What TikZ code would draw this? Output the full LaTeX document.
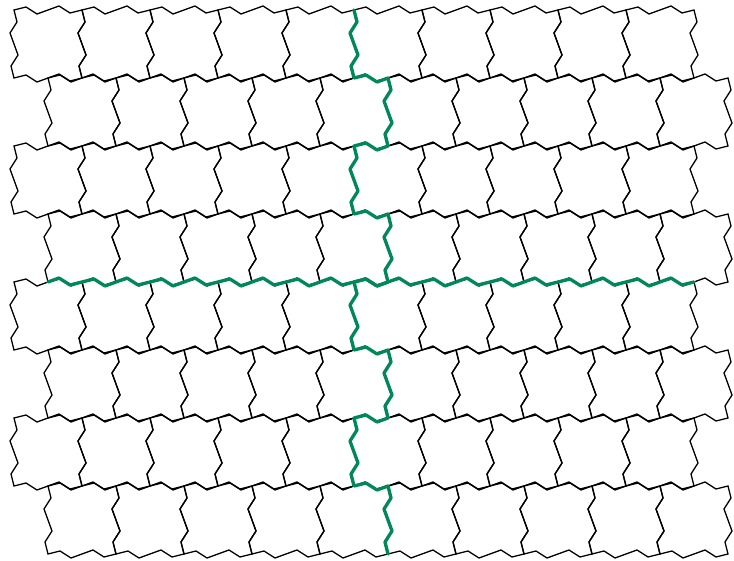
\documentclass[tikz,border=0pt]{standalone}
\usepackage{tikz}
\usetikzlibrary{calc}
\usepackage{xcolor}
\definecolor{seam}{HTML}{00875A}

% one paver edge, as relative steps (picture units are pixels, y down)
\newcommand{\hedge}{-- ++(12,-3) -- ++(11,7) -- ++(22,-8) -- ++(11,7) -- ++(12,-3)}
\newcommand{\vedge}{-- ++(3,12) -- ++(-7,11) -- ++(8,22) -- ++(-7,11) -- ++(3,12)}
\newcommand{\hedgeback}{-- ++(-12,3) -- ++(-11,-7) -- ++(-22,8) -- ++(-11,-7) -- ++(-12,3)}
\newcommand{\vedgeback}{-- ++(-3,-12) -- ++(7,-11) -- ++(-8,-22) -- ++(7,-11) -- ++(-3,-12)}
% half edges between the two joint columns
\newcommand{\halfright}{-- ++(12,-3) -- ++(11,7) -- ++(11,-4)}
\newcommand{\halfleft}{-- ++(-11,4) -- ++(-11,-7) -- ++(-12,3)}

\tikzset{
  paver/.style={line width=1.3pt, black, line join=miter},
  seamline/.style={line width=3.3pt, seam, line join=round, line cap=round}
}

\begin{document}
\begin{tikzpicture}[x=1pt, y=-1pt]
  \useasboundingbox (0,0) rectangle (734,561);
  % Pavers
  \foreach \r in {0,...,7}{
    \foreach \k in {0,...,9}{
      \pgfmathsetmacro\xo{14+68*\k+34*mod(\r,2)}
      \pgfmathsetmacro\yo{10+68*\r}
      \draw[paver] (\xo,\yo) \hedge \vedge \hedgeback \vedgeback -- cycle;
    }
  }
  % Vertical joint
  \draw[seamline] (354,10) \vedge \halfright \vedge \halfleft \vedge \halfright \vedge
    \halfleft \vedge \halfright \vedge \halfleft \vedge \halfright \vedge;
  % Horizontal joint
  \draw[seamline] (48,282) -- ++(11,-4) -- ++(11,7) -- ++(12,-3)
    \hedge \hedge \hedge \hedge \hedge \hedge \hedge \hedge \hedge;
\end{tikzpicture}
\end{document}
